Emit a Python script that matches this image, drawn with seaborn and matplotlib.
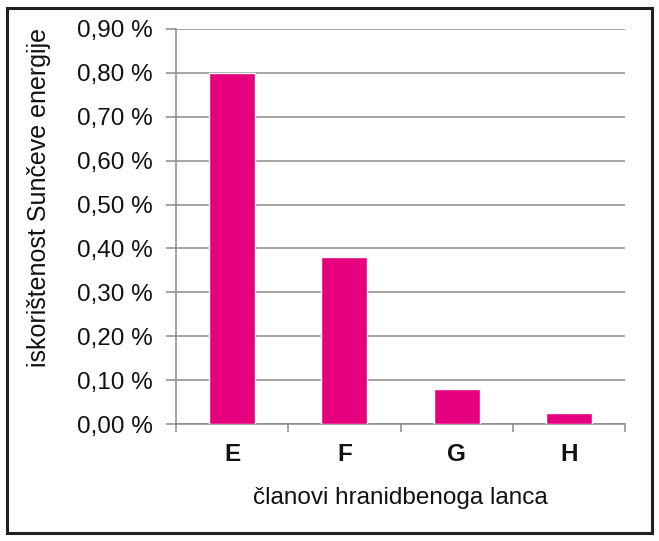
import matplotlib
matplotlib.use("Agg")
import matplotlib.pyplot as plt
import seaborn as sns
import pandas as pd
from matplotlib.patches import Rectangle
from matplotlib.ticker import FixedLocator

categories = ["E", "F", "G", "H"]
values = [0.80, 0.38, 0.08, 0.026]
ytick_values = [0.0, 0.1, 0.2, 0.3, 0.4, 0.5, 0.6, 0.7, 0.8, 0.9]
ytick_labels = ["0,00 %", "0,10 %", "0,20 %", "0,30 %", "0,40 %", "0,50 %",
                "0,60 %", "0,70 %", "0,80 %", "0,90 %"]
xlabel = "članovi hranidbenoga lanca"
ylabel = "iskorištenost Sunčeve energije"

sns.set_theme(style="white")
plt.rcParams["font.family"] = ["Liberation Sans", "DejaVu Sans"]

df = pd.DataFrame({"cat": categories, "val": values})

fig = plt.figure(figsize=(6.59, 5.41), dpi=100)
ax = fig.add_axes([176/659, 1-424/541, (625-176)/659, (424-29)/541])

sns.barplot(data=df, x="cat", y="val", color="#E6007E", width=0.41,
            saturation=1, ax=ax, zorder=3)

ax.set_ylim(0, 0.9)
ax.set_xlim(-0.5, 3.5)
ax.set_yticks(ytick_values)
ax.set_yticklabels(ytick_labels, fontsize=17.5, color="#111111")
ax.yaxis.grid(True, color="#8a8a8a", linewidth=1.1, zorder=0)
ax.set_axisbelow(True)

ax.set_xticks(range(len(categories)))
ax.set_xticklabels(categories, fontsize=17.5, fontweight="bold", color="#111111")
ax.xaxis.set_minor_locator(FixedLocator([-0.5, 0.5, 1.5, 2.5, 3.5]))
ax.tick_params(axis="x", which="major", length=0, pad=13.5)
ax.tick_params(axis="x", which="minor", length=6, color="#8a8a8a", width=1.1, direction="out", bottom=True)
ax.tick_params(axis="y", length=7, color="#8a8a8a", width=1.1, direction="out", left=True, pad=10)

for s in ["top", "right"]:
    ax.spines[s].set_visible(False)
for s in ["left", "bottom"]:
    ax.spines[s].set_color("#8a8a8a")
    ax.spines[s].set_linewidth(1.1)

ax.set_xlabel(xlabel, fontsize=17.5, labelpad=15, color="#111111")
ax.set_ylabel(ylabel, fontsize=18, color="#111111")
ax.yaxis.set_label_coords((51-176)/449, (424-197)/395)

fig.patches.append(Rectangle((7/659, 8/541), 645/659, 525/541, transform=fig.transFigure,
                             fill=False, edgecolor="#231f20", linewidth=2.2))

fig.savefig("out.png", dpi=100)
